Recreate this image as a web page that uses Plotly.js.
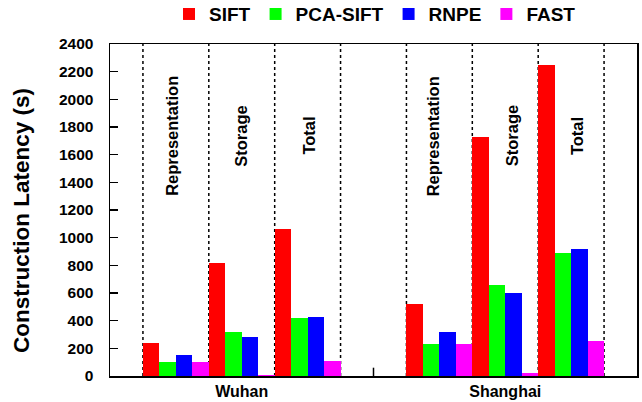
<!DOCTYPE html>
<html>
<head>
<meta charset="utf-8">
<script src="https://cdn.plot.ly/plotly-3.0.1.min.js"></script>
<style>html,body{margin:0;padding:0;background:#fff;}#chart{width:642px;height:402px;}</style>
</head>
<body>
<div id="chart"></div>
<script>
// ---- data ----
var cities = ['Wuhan', 'Shanghai'];
var phases = ['Representation', 'Storage', 'Total'];
var methods = ['SIFT', 'PCA-SIFT', 'RNPE', 'FAST'];
var colors = ['#ff0000', '#00ff00', '#0000ff', '#ff00ff'];
// values per method: [Wuhan Rep, Wuhan Storage, Wuhan Total, Shanghai Rep, Shanghai Storage, Shanghai Total]
var siftValues    = [240, 820, 1060, 520, 1730, 2250];
var pcaSiftValues = [100, 320, 420, 230, 660, 890];
var rnpeValues    = [150, 280, 430, 320, 600, 920];
var fastValues    = [100, 10, 110, 230, 25, 255];
var seriesValues = [siftValues, pcaSiftValues, rnpeValues, fastValues];
var yTicks = [0, 200, 400, 600, 800, 1000, 1200, 1400, 1600, 1800, 2000, 2200, 2400];

// group slots: each city occupies 3 slots, one empty slot between cities
var slotsPerCity = phases.length + 1;
var groupX = [];
cities.forEach(function (c, ci) {
  phases.forEach(function (p, pi) {
    groupX.push(ci * slotsPerCity + pi + 1);
  });
});
var cityCenters = cities.map(function (c, ci) { return ci * slotsPerCity + (phases.length + 1) / 2; });
var xMax = cities.length * slotsPerCity;

var traces = methods.map(function (m, i) {
  return {
    type: 'bar',
    name: m,
    x: groupX,
    y: seriesValues[i],
    marker: {color: colors[i], line: {width: 0}},
    hoverinfo: 'x+y+name'
  };
});

// dotted separators at group boundaries
var shapes = [];
cities.forEach(function (c, ci) {
  for (var k = 0; k <= phases.length; k++) {
    shapes.push({
      type: 'line', xref: 'x', yref: 'paper',
      x0: ci * slotsPerCity + k + 0.5, x1: ci * slotsPerCity + k + 0.5,
      y0: 0, y1: 1,
      line: {color: 'black', width: 1.5, dash: 'dot'},
      layer: 'below'
    });
  }
});
// single inward tick between the two cities
shapes.push({
  type: 'line', xref: 'x', yref: 'paper',
  x0: slotsPerCity, x1: slotsPerCity, y0: 0, y1: 0.025,
  line: {color: 'black', width: 1.5}
});

var phaseShift = [[-4, -1, 1], [-6, 7, 6]];
var annotations = [];
cities.forEach(function (c, ci) {
  phases.forEach(function (p, pi) {
    annotations.push({
      xref: 'x', yref: 'y',
      x: ci * slotsPerCity + pi + 1, y: 1735,
      xshift: phaseShift[ci][pi],
      text: p, textangle: -90, showarrow: false,
      font: {size: 16.5, weight: 'bold', color: 'black'}
    });
  });
});
annotations.push({
  xref: 'paper', yref: 'paper',
  x: -0.167, y: 0.47, xanchor: 'center', yanchor: 'middle',
  text: 'Construction Latency (s)', textangle: -90, showarrow: false,
  font: {size: 22.5, weight: 'bold', color: 'black'}
});

var layout = {
  width: 642, height: 402,
  margin: {l: 110, r: 5, t: 44, b: 26, autoexpand: false},
  paper_bgcolor: '#fff', plot_bgcolor: '#fff',
  font: {family: '"Liberation Sans", Arial, sans-serif', weight: 'bold', color: 'black'},
  barmode: 'group', bargap: 0, bargroupgap: 0,
  showlegend: true,
  legend: {
    orientation: 'h', x: 0.112, xanchor: 'left', y: 1.09, yanchor: 'middle',
    font: {size: 19, weight: 'bold'}, traceorder: 'normal'
  },
  xaxis: {
    range: [0, xMax], tickmode: 'array', tickvals: cityCenters, ticktext: cities,
    ticks: '', showgrid: false, zeroline: false,
    showline: true, linecolor: 'black', linewidth: 1.5, mirror: true,
    tickfont: {size: 16, weight: 'bold'}, layer: 'below traces'
  },
  yaxis: {
    range: [0, 2400], tickmode: 'array', tickvals: yTicks,
    ticks: 'inside', ticklen: 8, tickwidth: 1.5, tickcolor: 'black',
    showgrid: false, zeroline: false,
    showline: true, linecolor: 'black', linewidth: 1.5, mirror: true,
    tickfont: {size: 15.5, weight: 'bold'}, ticklabelstandoff: 12
  },
  shapes: shapes,
  annotations: annotations
};

Plotly.newPlot('chart', traces, layout, {displayModeBar: false, staticPlot: true});
</script>
</body>
</html>
